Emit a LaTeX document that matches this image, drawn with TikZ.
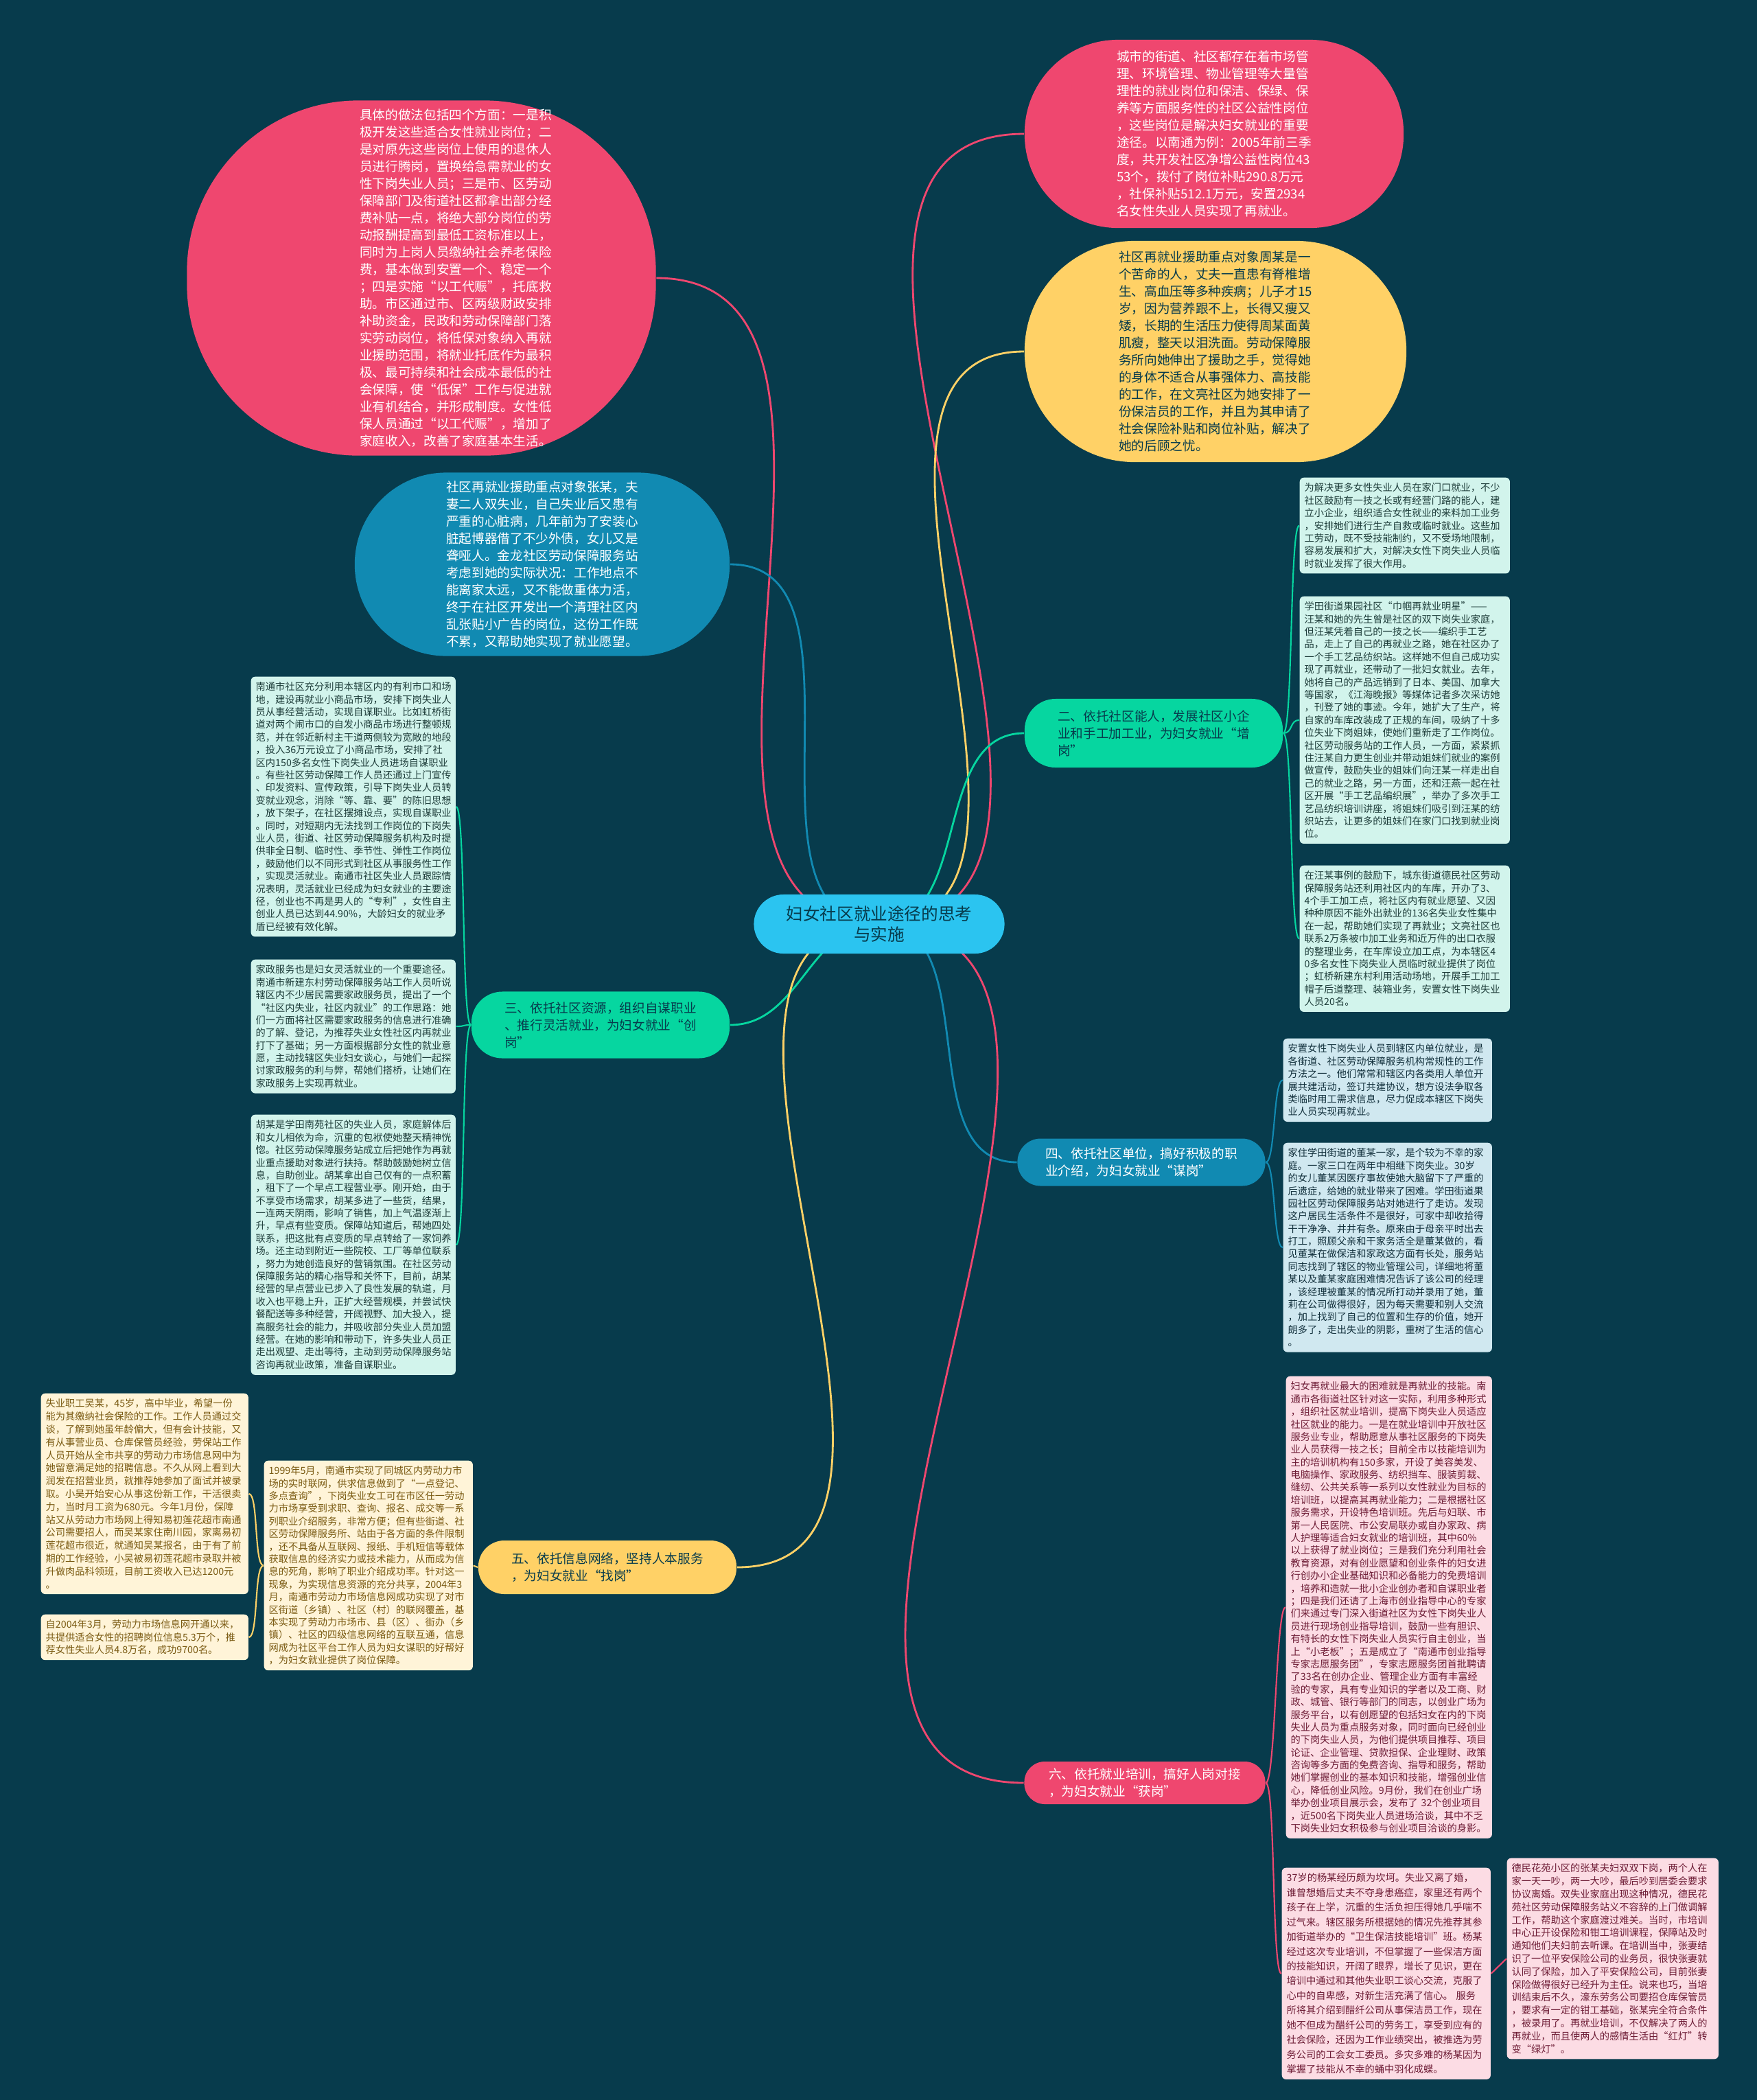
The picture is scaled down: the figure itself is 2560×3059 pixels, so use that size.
\documentclass[tikz,border=0pt]{standalone}
\usepackage{fontspec}
\newfontfamily\cjk{Noto Sans CJK SC}
\usetikzlibrary{positioning}
\definecolor{bgnavy}{HTML}{073B4C}
\definecolor{roottopic}{HTML}{2BC4F0}
\definecolor{redtopic}{HTML}{EF476F}
\definecolor{yellowtopic}{HTML}{FFD166}
\definecolor{greentopic}{HTML}{06D6A0}
\definecolor{bluetopic}{HTML}{118AB2}
\definecolor{greenleaf}{HTML}{D2F4EC}
\definecolor{blueleaf}{HTML}{D0E8F0}
\definecolor{yellowleaf}{HTML}{FFF4D8}
\definecolor{redleaf}{HTML}{FCDCE4}
\definecolor{greenink}{HTML}{1E3D3A}
\definecolor{blueink}{HTML}{12303C}
\definecolor{yellowink}{HTML}{7A5A12}
\definecolor{redink}{HTML}{6E1D36}
\newcommand\rootfont{\cjk\fontsize{7pt}{8.8pt}\selectfont}
\newcommand\topicfont{\cjk\fontsize{5.3pt}{7.1pt}\selectfont}
\newcommand\leaffont{\cjk\fontsize{4.05pt}{5.23pt}\selectfont}
\pgfdeclarelayer{bg}
\pgfdeclarelayer{lnk}
\pgfsetlayers{bg,lnk,main}
\tikzset{
  rootnode/.style={fill=roottopic, text=bgnavy, rounded corners=0.43cm,
    minimum width=3.65cm, minimum height=0.86cm, align=center, font=\rootfont},
  bubble/.style={inner sep=0pt, align=left, font=\topicfont},
  redbubble/.style={bubble, fill=redtopic, text=white},
  yellowbubble/.style={bubble, fill=yellowtopic, text=bgnavy},
  bluebubble/.style={bubble, fill=bluetopic, text=white},
  bubbletext/.style={inner sep=0pt, align=left, font=\topicfont},
  branch/.style={inner sep=0pt, align=left, font=\topicfont},
  greenbranch/.style={branch, fill=greentopic, text=bgnavy},
  bluebranch/.style={branch, fill=bluetopic, text=white},
  yellowbranch/.style={branch, fill=yellowtopic, text=bgnavy},
  redbranch/.style={branch, fill=redtopic, text=white},
  leaf/.style={anchor=north west, rounded corners=0.06cm, align=left,
    font=\leaffont, inner xsep=0.07cm, inner ysep=0.08cm},
  greenleafbox/.style={leaf, fill=greenleaf, text=greenink},
  blueleafbox/.style={leaf, fill=blueleaf, text=blueink},
  yellowleafbox/.style={leaf, fill=yellowleaf, text=yellowink},
  redleafbox/.style={leaf, fill=redleaf, text=redink},
  rootlink/.style={line width=0.8pt},
  link/.style={line width=0.6pt}
}
\begin{document}
\begin{tikzpicture}[x=0.01cm, y=-0.01cm]
  \begin{pgfonlayer}{bg}
    \fill[bgnavy] (0,0) rectangle (2560,3059);
  \end{pgfonlayer}
  \useasboundingbox (0,0) rectangle (2560,3059);

  % centre
  \node[rootnode] (root) at (1281,1346) {妇女社区就业途径的思考\\与实施};

  % big topics
  \node[redbubble, minimum width=6.83cm, minimum height=5.17cm, rounded corners=2.5cm] (plan) at (614,405) {};
  \node[bubbletext, text=white] (plantxt) at (664,405) {具体的做法包括四个方面：一是积\\极开发这些适合女性就业岗位；二\\是对原先这些岗位上使用的退休人\\员进行腾岗，置换给急需就业的女\\性下岗失业人员；三是市、区劳动\\保障部门及街道社区都拿出部分经\\费补贴一点，将绝大部分岗位的劳\\动报酬提高到最低工资标准以上，\\同时为上岗人员缴纳社会养老保险\\费，基本做到安置一个、稳定一个\\；四是实施“以工代赈”，托底救\\助。市区通过市、区两级财政安排\\补助资金，民政和劳动保障部门落\\实劳动岗位，将低保对象纳入再就\\业援助范围，将就业托底作为最积\\极、最可持续和社会成本最低的社\\会保障，使“低保”工作与促进就\\业有机结合，并形成制度。女性低\\保人员通过“以工代赈”，增加了\\家庭收入，改善了家庭基本生活。};
  \node[redbubble, minimum width=5.52cm, minimum height=2.74cm, rounded corners=1.36cm] (posts) at (1769,195) {城市的街道、社区都存在着市场管\\理、环境管理、物业管理等大量管\\理性的就业岗位和保洁、保绿、保\\养等方面服务性的社区公益性岗位\\，这些岗位是解决妇女就业的重要\\途径。以南通为例：2005年前三季\\度，共开发社区净增公益性岗位43\\53个，拨付了岗位补贴290.8万元\\，社保补贴512.1万元，安置2934\\名女性失业人员实现了再就业。};
  \node[yellowbubble, minimum width=5.56cm, minimum height=3.22cm, rounded corners=1.6cm] (zhou) at (1771,512) {社区再就业援助重点对象周某是一\\个苦命的人，丈夫一直患有脊椎增\\生、高血压等多种疾病；儿子才15\\岁，因为营养跟不上，长得又瘦又\\矮，长期的生活压力使得周某面黄\\肌瘦，整天以泪洗面。劳动保障服\\务所向她伸出了援助之手，觉得她\\的身体不适合从事强体力、高技能\\的工作，在文亮社区为她安排了一\\份保洁员的工作，并且为其申请了\\社会保险补贴和岗位补贴，解决了\\她的后顾之忧。};
  \node[bluebubble, minimum width=5.46cm, minimum height=2.67cm, rounded corners=1.33cm] (zhang) at (790,822) {社区再就业援助重点对象张某，夫\\妻二人双失业，自己失业后又患有\\严重的心脏病，几年前为了安装心\\脏起博器借了不少外债，女儿又是\\聋哑人。金龙社区劳动保障服务站\\考虑到她的实际状况：工作地点不\\能离家太远，又不能做重体力活，\\终于在社区开发出一个清理社区内\\乱张贴小广告的岗位，这份工作既\\不累，又帮助她实现了就业愿望。};

  % branches
  \node[greenbranch, minimum width=3.76cm, minimum height=1cm, rounded corners=0.45cm] (able) at (1681,1068) {二、依托社区能人，发展社区小企\\业和手工加工业，为妇女就业“增\\岗”};
  \node[greenbranch, minimum width=3.76cm, minimum height=0.97cm, rounded corners=0.45cm] (flex) at (875,1493) {三、依托社区资源，组织自谋职业\\、推行灵活就业，为妇女就业“创\\岗”};
  \node[bluebranch, minimum width=3.61cm, minimum height=0.69cm, rounded corners=0.34cm] (unit) at (1663,1693) {四、依托社区单位，搞好积极的职\\业介绍，为妇女就业“谋岗”};
  \node[yellowbranch, minimum width=3.76cm, minimum height=0.78cm, rounded corners=0.38cm] (net) at (885,2283) {五、依托信息网络，坚持人本服务\\，为妇女就业“找岗”};
  \node[redbranch, minimum width=3.51cm, minimum height=0.62cm, rounded corners=0.3cm] (train) at (1668,2597) {六、依托就业培训，搞好人岗对接\\，为妇女就业“获岗”};

  % leaves of 二
  \node[greenleafbox, text width=2.92cm] (ablea) at (1893,695) {为解决更多女性失业人员在家门口就业，不少\\社区鼓励有一技之长或有经营门路的能人，建\\立小企业，组织适合女性就业的来料加工业务\\，安排她们进行生产自救或临时就业。这些加\\工劳动，既不受技能制约，又不受场地限制，\\容易发展和扩大，对解决女性下岗失业人员临\\时就业发挥了很大作用。};
  \node[greenleafbox, text width=2.92cm] (ableb) at (1893,868) {学田街道果园社区“巾帼再就业明星”——\\汪某和她的先生曾是社区的双下岗失业家庭，\\但汪某凭着自己的一技之长——编织手工艺\\品，走上了自己的再就业之路，她在社区办了\\一个手工艺品纺织站。这样她不但自己成功实\\现了再就业，还带动了一批妇女就业。去年，\\她将自己的产品远销到了日本、美国、加拿大\\等国家，《江海晚报》等媒体记者多次采访她\\，刊登了她的事迹。今年，她扩大了生产，将\\自家的车库改装成了正规的车间，吸纳了十多\\位失业下岗姐妹，使她们重新走了工作岗位。\\社区劳动服务站的工作人员，一方面，紧紧抓\\住汪某自力更生创业并带动姐妹们就业的案例\\做宣传，鼓励失业的姐妹们向汪某一样走出自\\己的就业之路，另一方面，还和汪燕一起在社\\区开展“手工艺品编织展”，举办了多次手工\\艺品纺织培训讲座，将姐妹们吸引到汪某的纺\\织站去，让更多的姐妹们在家门口找到就业岗\\位。};
  \node[greenleafbox, text width=2.92cm] (ablec) at (1893,1260) {在汪某事例的鼓励下，城东街道德民社区劳动\\保障服务站还利用社区内的车库，开办了3、\\4个手工加工点，将社区内有就业愿望、又因\\种种原因不能外出就业的136名失业女性集中\\在一起，帮助她们实现了再就业；文亮社区也\\联系2万条被巾加工业务和近万件的出口衣服\\的整理业务，在车库设立加工点，为本辖区4\\0多名女性下岗失业人员临时就业提供了岗位\\；虹桥新建东村利用活动场地，开展手工加工\\帽子后道整理、装箱业务，安置女性下岗失业\\人员20名。};

  % leaves of 三
  \node[greenleafbox, text width=2.84cm] (flexa) at (365,985) {南通市社区充分利用本辖区内的有利市口和场\\地，建设再就业小商品市场，安排下岗失业人\\员从事经营活动，实现自谋职业。比如虹桥街\\道对两个闹市口的自发小商品市场进行整顿规\\范，并在邻近新村主干道两侧较为宽敞的地段\\，投入36万元设立了小商品市场，安排了社\\区内150多名女性下岗失业人员进场自谋职业\\。有些社区劳动保障工作人员还通过上门宣传\\、印发资料、宣传政策，引导下岗失业人员转\\变就业观念，消除“等、靠、要”的陈旧思想\\，放下架子，在社区摆摊设点，实现自谋职业\\。同时，对短期内无法找到工作岗位的下岗失\\业人员，街道、社区劳动保障服务机构及时提\\供非全日制、临时性、季节性、弹性工作岗位\\，鼓励他们以不同形式到社区从事服务性工作\\，实现灵活就业。南通市社区失业人员跟踪情\\况表明，灵活就业已经成为妇女就业的主要途\\径，创业也不再是男人的“专利”，女性自主\\创业人员已达到44.90\%，大龄妇女的就业矛\\盾已经被有效化解。};
  \node[greenleafbox, text width=2.84cm] (flexb) at (365,1397) {家政服务也是妇女灵活就业的一个重要途径。\\南通市新建东村劳动保障服务站工作人员听说\\辖区内不少居民需要家政服务员，提出了一个\\“社区内失业，社区内就业”的工作思路：她\\们一方面将社区需要家政服务的信息进行准确\\的了解、登记，为推荐失业女性社区内再就业\\打下了基础；另一方面根据部分女性的就业意\\愿，主动找辖区失业妇女谈心，与她们一起探\\讨家政服务的利与弊，帮她们搭桥，让她们在\\家政服务上实现再就业。};
  \node[greenleafbox, text width=2.84cm] (flexc) at (365,1623) {胡某是学田南苑社区的失业人员，家庭解体后\\和女儿相依为命，沉重的包袱使她整天精神恍\\惚。社区劳动保障服务站成立后把她作为再就\\业重点援助对象进行扶持。帮助鼓励她树立信\\息，自助创业。胡某拿出自己仅有的一点积蓄\\，租下了一个早点工程营业亭。刚开始，由于\\不享受市场需求，胡某多进了一些货，结果，\\一连两天阴雨，影响了销售，加上气温逐渐上\\升，早点有些变质。保障站知道后，帮她四处\\联系，把这批有点变质的早点转给了一家饲养\\场。还主动到附近一些院校、工厂等单位联系\\，努力为她创造良好的营销氛围。在社区劳动\\保障服务站的精心指导和关怀下，目前，胡某\\经营的早点营业已步入了良性发展的轨道，月\\收入也平稳上升，正扩大经营规模，并尝试快\\餐配送等多种经营，开阔视野、加大投入，提\\高服务社会的能力，并吸收部分失业人员加盟\\经营。在她的影响和带动下，许多失业人员正\\走出观望、走出等待，主动到劳动保障服务站\\咨询再就业政策，准备自谋职业。};

  % leaves of 四
  \node[blueleafbox, text width=2.9cm] (unita) at (1869,1512) {安置女性下岗失业人员到辖区内单位就业，是\\各街道、社区劳动保障服务机构常规性的工作\\方法之一。他们常常和辖区内各类用人单位开\\展共建活动，签订共建协议，想方设法争取各\\类临时用工需求信息，尽力促成本辖区下岗失\\业人员实现再就业。};
  \node[blueleafbox, text width=2.9cm] (unitb) at (1869,1664) {家住学田街道的董某一家，是个较为不幸的家\\庭。一家三口在两年中相继下岗失业。30岁\\的女儿董某因医疗事故使她大脑留下了严重的\\后遗症，给她的就业带来了困难。学田街道果\\园社区劳动保障服务站对她进行了走访。发现\\这户居民生活条件不是很好，可家中却收拾得\\干干净净、井井有条。原来由于母亲平时出去\\打工，照顾父亲和干家务活全是董某做的，看\\见董某在做保洁和家政这方面有长处，服务站\\同志找到了辖区的物业管理公司，详细地将董\\某以及董某家庭困难情况告诉了该公司的经理\\，该经理被董某的情况所打动并录用了她，董\\莉在公司做得很好，因为每天需要和别人交流\\，加上找到了自己的位置和生存的价值，她开\\朗多了，走出失业的阴影，重树了生活的信心\\。};

  % leaves of 五
  \node[yellowleafbox, text width=2.9cm] (neta) at (384,2127) {1999年5月，南通市实现了同城区内劳动力市\\场的实时联网，供求信息做到了“一点登记、\\多点查询”，下岗失业女工可在市区任一劳动\\力市场享受到求职、查询、报名、成交等一系\\列职业介绍服务，非常方便；但有些街道、社\\区劳动保障服务所、站由于各方面的条件限制\\，还不具备从互联网、报纸、手机短信等载体\\获取信息的经济实力或技术能力，从而成为信\\息的死角，影响了职业介绍成功率。针对这一\\现象，为实现信息资源的充分共享，2004年3\\月，南通市劳动力市场信息网成功实现了对市\\区街道（乡镇）、社区（村）的联网覆盖，基\\本实现了劳动力市场市、县（区）、街办（乡\\镇）、社区的四级信息网络的互联互通，信息\\网成为社区平台工作人员为妇女谋职的好帮好\\，为妇女就业提供了岗位保障。};
  \node[yellowleafbox, text width=2.88cm, font=\cjk\fontsize{4.05pt}{5.35pt}\selectfont] (wu) at (59,2029) {失业职工吴某，45岁，高中毕业，希望一份\\能为其缴纳社会保险的工作。工作人员通过交\\谈，了解到她虽年龄偏大，但有会计技能，又\\有从事营业员、仓库保管员经验，劳保站工作\\人员开始从全市共享的劳动力市场信息网中为\\她留意满足她的招聘信息。不久从网上看到大\\润发在招营业员，就推荐她参加了面试并被录\\取。小吴开始安心从事这份新工作，干活很卖\\力，当时月工资为680元。今年1月份，保障\\站又从劳动力市场网上得知易初莲花超市南通\\公司需要招人，而吴某家住南川园，家离易初\\莲花超市很近，就通知吴某报名，由于有了前\\期的工作经验，小吴被易初莲花超市录取并被\\升做肉品科领班，目前工资收入已达1200元\\。};
  \node[yellowleafbox, text width=2.88cm] (since) at (59,2351) {自2004年3月，劳动力市场信息网开通以来，\\共提供适合女性的招聘岗位信息5.3万个，推\\荐女性失业人员4.8万名，成功9700名。};

  % leaves of 六
  \node[redleafbox, text width=2.86cm] (traina) at (1873,2004) {妇女再就业最大的困难就是再就业的技能。南\\通市各街道社区针对这一实际，利用多种形式\\，组织社区就业培训，提高下岗失业人员适应\\社区就业的能力。一是在就业培训中开放社区\\服务业专业，帮助愿意从事社区服务的下岗失\\业人员获得一技之长；目前全市以技能培训为\\主的培训机构有150多家，开设了美容美发、\\电脑操作、家政服务、纺织挡车、服装剪裁、\\缝纫、公共关系等一系列以女性就业为目标的\\培训班，以提高其再就业能力；二是根据社区\\服务需求，开设特色培训班。先后与妇联、市\\第一人民医院、市公安局联办或自办家政、病\\人护理等适合妇女就业的培训班，其中60\%\\以上获得了就业岗位；三是我们充分利用社会\\教育资源，对有创业愿望和创业条件的妇女进\\行创办小企业基础知识和必备能力的免费培训\\，培养和造就一批小企业创办者和自谋职业者\\；四是我们还请了上海市创业指导中心的专家\\们来通过专门深入街道社区为女性下岗失业人\\员进行现场创业指导培训，鼓励一些有胆识、\\有特长的女性下岗失业人员实行自主创业，当\\上“小老板”；五是成立了“南通市创业指导\\专家志愿服务团”，专家志愿服务团首批聘请\\了33名在创办企业、管理企业方面有丰富经\\验的专家，具有专业知识的学者以及工商、财\\政、城管、银行等部门的同志，以创业广场为\\服务平台，以有创愿望的包括妇女在内的下岗\\失业人员为重点服务对象，同时面向已经创业\\的下岗失业人员，为他们提供项目推荐、项目\\论证、企业管理、贷款担保、企业理财、政策\\咨询等多方面的免费咨询、指导和服务，帮助\\她们掌握创业的基本知识和技能，增强创业信\\心，降低创业风险。9月份，我们在创业广场\\举办创业项目展示会，发布了 32个创业项目\\，近500名下岗失业人员进场洽谈，其中不乏\\下岗失业妇女积极参与创业项目洽谈的身影。};
  \node[redleafbox, text width=2.9cm, font=\cjk\fontsize{4.05pt}{6.1pt}\selectfont] (yang) at (1867,2720) {37岁的杨某经历颇为坎坷。失业又离了婚，\\谁曾想婚后丈夫不夺身患癌症，家里还有两个\\孩子在上学，沉重的生活负担压得她几乎喘不\\过气来。辖区服务所根据她的情况先推荐其参\\加街道举办的“卫生保洁技能培训”班。杨某\\经过这次专业培训，不但掌握了一些保洁方面\\的技能知识，开阔了眼界，增长了见识，更在\\培训中通过和其他失业职工谈心交流，克服了\\心中的自卑感，对新生活充满了信心。 服务\\所将其介绍到醋纤公司从事保洁员工作，现在\\她不但成为醋纤公司的劳务工，享受到应有的\\社会保险，还因为工作业绩突出，被推选为劳\\务公司的工会女工委员。多灾多难的杨某因为\\掌握了技能从不幸的蛹中羽化成蝶。};
  \node[redleafbox, text width=2.94cm, font=\cjk\fontsize{4.05pt}{5.35pt}\selectfont] (couple) at (2195,2706) {德民花苑小区的张某夫妇双双下岗，两个人在\\家一天一吵，两一大吵，最后吵到居委会要求\\协议离婚。双失业家庭出现这种情况，德民花\\苑社区劳动保障服务站义不容辞的上门做调解\\工作，帮助这个家庭渡过难关。当时，市培训\\中心正开设保险和钳工培训课程，保障站及时\\通知他们夫妇前去听课。在培训当中，张妻结\\识了一位平安保险公司的业务员，很快张妻就\\认同了保险，加入了平安保险公司，目前张妻\\保险做得很好已经升为主任。说来也巧，当培\\训结束后不久，濠东劳务公司要招仓库保管员\\，要求有一定的钳工基础，张某完全符合条件\\，被录用了。再就业培训，不仅解决了两人的\\再就业，而且使两人的感情生活由“红灯”转\\变“绿灯”。};

  % connectors
  \begin{pgfonlayer}{lnk}
    \draw[rootlink, redtopic] (root.center) to[out=180, in=0] (plan.east);
    \draw[rootlink, redtopic] (root.center) to[out=0, in=180] (posts.west);
    \draw[rootlink, yellowtopic] (root.center) to[out=0, in=180] (zhou.west);
    \draw[rootlink, bluetopic] (root.center) to[out=180, in=0] (zhang.east);
    \draw[rootlink, greentopic] (root.center) to[out=0, in=180] (able.west);
    \draw[rootlink, greentopic] (root.center) to[out=180, in=0] (flex.east);
    \draw[rootlink, bluetopic] (root.center) to[out=0, in=180] (unit.west);
    \draw[rootlink, yellowtopic] (root.center) to[out=180, in=0] (net.east);
    \draw[rootlink, redtopic] (root.center) to[out=0, in=180] (train.west);
    \foreach \leafname in {ablea,ableb,ablec}
      \draw[link, greentopic] (able.east) .. controls +(14,0) and +(-14,0) .. (\leafname.west);
    \foreach \leafname in {flexa,flexb,flexc}
      \draw[link, greentopic] (flex.west) .. controls +(-14,0) and +(14,0) .. (\leafname.east);
    \foreach \leafname in {unita,unitb}
      \draw[link, bluetopic] (unit.east) .. controls +(14,0) and +(-14,0) .. (\leafname.west);
    \draw[link, yellowtopic] (net.west) -- (neta.east);
    \foreach \leafname in {wu,since}
      \draw[link, yellowtopic] (neta.west) .. controls +(-14,0) and +(14,0) .. (\leafname.east);
    \foreach \leafname in {traina,yang}
      \draw[link, redtopic] (train.east) .. controls +(14,0) and +(-14,0) .. (\leafname.west);
    \draw[link, redtopic] (yang.east) -- (couple.west);
  \end{pgfonlayer}
\end{tikzpicture}
\end{document}
